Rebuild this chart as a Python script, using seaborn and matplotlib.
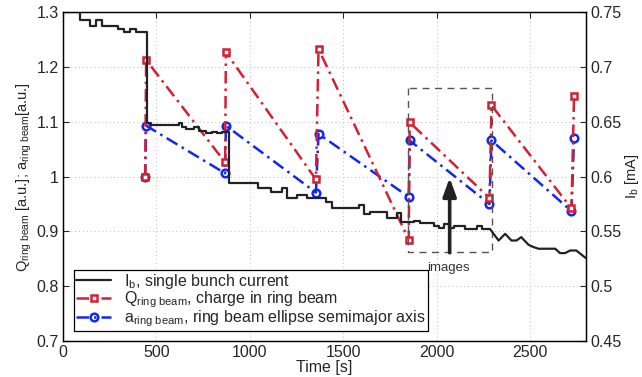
import matplotlib
matplotlib.use("Agg")
import matplotlib.pyplot as plt
import pandas as pd
import seaborn as sns

# Q_ring beam (charge) and a_ring beam (semimajor axis), normalised
inj_t = [440, 445, 868, 872, 1354, 1368, 1851, 1856, 2283, 2294, 2722, 2736]
q_ring = [1.0, 1.213, 1.026, 1.227, 0.995, 1.233, 0.885, 1.099, 0.961, 1.130, 0.942, 1.148]
a_ring = [1.0, 1.093, 1.006, 1.093, 0.971, 1.078, 0.963, 1.066, 0.950, 1.066, 0.937, 1.071]

# single bunch current, stepped part
ib_step_t = [0, 92, 147, 177, 209, 296, 329, 359, 393, 448, 471, 619, 637, 658, 702, 729, 765,
             797, 822, 850, 889, 1044, 1112, 1173, 1198, 1253, 1306, 1409, 1441, 1584, 1611,
             1646, 1735, 1787, 1807, 1878, 1913, 1984, 2011, 2038, 2065, 2091, 2154, 2214, 2241, 2287]
ib_step = [0.750, 0.743, 0.737, 0.743, 0.737, 0.7345, 0.732, 0.7345, 0.732, 0.6493, 0.6472, 0.6488,
           0.6457, 0.6436, 0.6457, 0.6420, 0.6397, 0.6411, 0.6397, 0.6411, 0.5941, 0.5895, 0.5859,
           0.5895, 0.5804, 0.5828, 0.5804, 0.5764, 0.5713, 0.5737, 0.5661, 0.5677, 0.5622, 0.5667,
           0.5582, 0.5597, 0.5576, 0.5545, 0.5530, 0.5567, 0.5530, 0.5545, 0.5524, 0.5551, 0.5520, 0.5520]
# single bunch current, continuous tail
ib_tail_t = [2287, 2332, 2367, 2401, 2428, 2453, 2492, 2519, 2545, 2635, 2661, 2688, 2715, 2748, 2800]
ib_tail = [0.5520, 0.5417, 0.5478, 0.5417, 0.5417, 0.5448, 0.5378, 0.5357, 0.5342, 0.5342, 0.5302,
           0.5302, 0.5326, 0.5326, 0.5255]

# dashed box around the imaged injection
box_t = [1848, 2296]
box_y = [0.862, 1.161]

sns.set_style("white")
plt.rcParams['font.family'] = ['Liberation Sans', 'DejaVu Sans']
plt.rcParams['mathtext.fontset'] = 'custom'
plt.rcParams['mathtext.rm'] = 'Liberation Sans'
plt.rcParams['mathtext.it'] = 'Liberation Sans'

red = "#d42030"
blue = "#1028f0"
dashdot = (0, (5, 2, 1, 2))
fs = 11.5

fig = plt.figure(figsize=(6.42, 3.77), dpi=100)
ax = fig.add_axes([0.0981, 0.0955, 0.8147, 0.872])
ax2 = ax.twinx()

df = pd.DataFrame({"t": inj_t, "Q": q_ring, "a": a_ring})
sns.lineplot(data=df, x="t", y="a", ax=ax, sort=False, estimator=None, color=blue,
             linestyle=dashdot, linewidth=1.8, marker="o", markersize=5.5,
             markerfacecolor="none", markeredgecolor=blue, markeredgewidth=1.8)
sns.lineplot(data=df, x="t", y="Q", ax=ax, sort=False, estimator=None, color=red,
             linestyle=dashdot, linewidth=1.8, marker="s", markersize=5,
             markerfacecolor="white", markeredgecolor=red, markeredgewidth=1.8)

ax.plot([box_t[0], box_t[0], box_t[1], box_t[1], box_t[0]],
        [box_y[1], box_y[0], box_y[0], box_y[1], box_y[1]],
        color="#555555", linestyle=(0, (5, 4)), linewidth=1.0)
ax.annotate("", xy=(2070, 1.003), xytext=(2070, 0.856),
            arrowprops=dict(arrowstyle="-|>,head_width=0.4,head_length=1.1",
                            color="#222222", lw=2.6))
ax.text(2063, 0.834, "images", ha="center", va="center", fontsize=9.5, color="#333333")

sns.lineplot(x=ib_step_t, y=ib_step, ax=ax2, color="#222222", linewidth=1.6,
             drawstyle="steps-post", estimator=None, sort=False)
sns.lineplot(x=ib_tail_t, y=ib_tail, ax=ax2, color="#222222", linewidth=1.6,
             estimator=None, sort=False)

ax.set_xlim(0, 2800)
ax.set_ylim(0.7, 1.3)
ax2.set_ylim(0.45, 0.75)
ax.set_xticks([0, 500, 1000, 1500, 2000, 2500])
ax.set_yticks([0.7, 0.8, 0.9, 1.0, 1.1, 1.2, 1.3])
ax.set_yticklabels(["0.7", "0.8", "0.9", "1", "1.1", "1.2", "1.3"])
ax2.set_yticks([0.45, 0.5, 0.55, 0.6, 0.65, 0.7, 0.75])
ax2.set_yticklabels(["0.45", "0.5", "0.55", "0.6", "0.65", "0.7", "0.75"])
ax.grid(True, linestyle=(0, (1, 3)), color="#bbbbbb", linewidth=0.7)

ax.tick_params(direction="in", top=True, labelsize=fs, length=4, width=0.8, pad=3)
ax2.tick_params(direction="in", labelsize=fs, length=4, width=0.8, pad=3)
for a_ in (ax, ax2):
    for s in a_.spines.values():
        s.set_linewidth(0.9)
        s.set_color("black")

ax.set_xlabel("Time [s]", fontsize=fs, labelpad=0)
ax.set_ylabel(r"Q$_{\mathrm{ring\ beam}}$ [a.u.]; a$_{\mathrm{ring\ beam}}$[a.u.]", fontsize=10.5, labelpad=2)
ax2.set_ylabel(r"I$_{\mathrm{b}}$ [mA]", fontsize=10.5, labelpad=1)

handles = [ax2.lines[0], ax.lines[1], ax.lines[0]]
labels = [r"I$_{\mathrm{b}}$, single bunch current",
          r"Q$_{\mathrm{ring\ beam}}$, charge in ring beam",
          r"a$_{\mathrm{ring\ beam}}$, ring beam ellipse semimajor axis"]
leg = ax2.legend(handles, labels, loc="lower left", bbox_to_anchor=(0.005, 0.005),
                 fontsize=fs, frameon=True, fancybox=False, edgecolor="black",
                 framealpha=1, borderpad=0.15, labelspacing=-0.1, handlelength=2.2,
                 handletextpad=0.8)
leg.get_frame().set_linewidth(0.9)

fig.savefig("out.png", dpi=100)
